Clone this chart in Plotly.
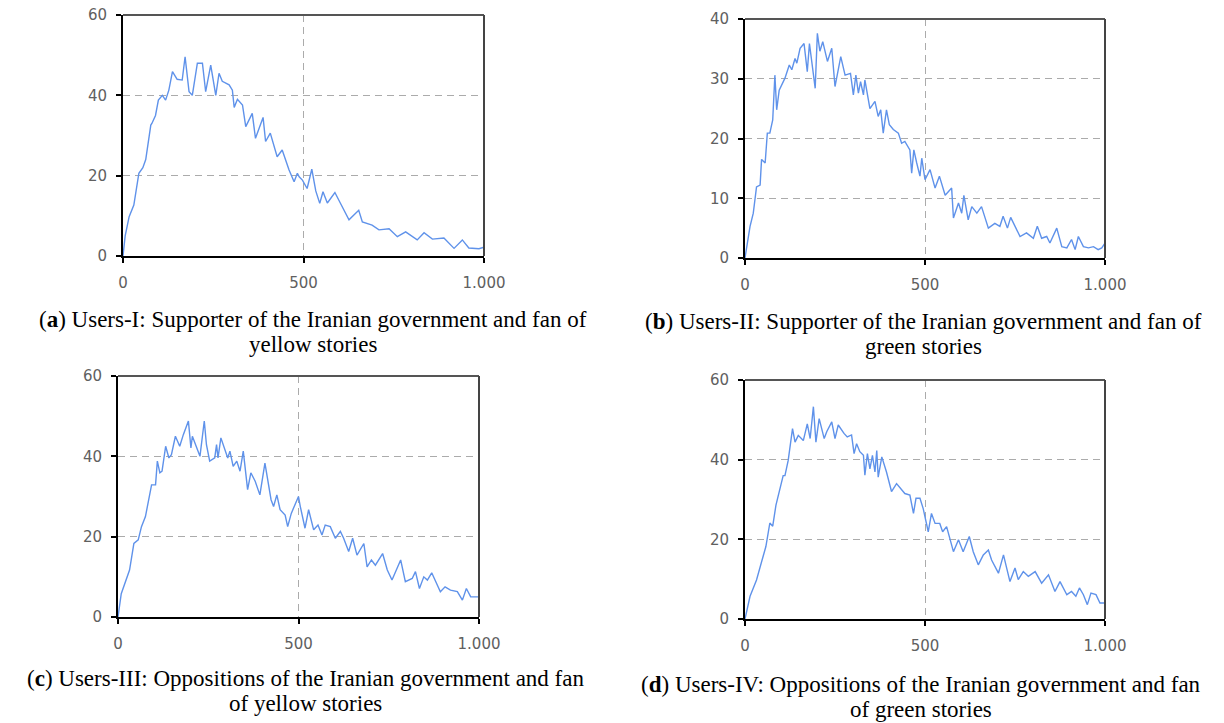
import plotly.graph_objects as go

W, H = 1224, 723

# ---- series data (x: time step, y: number of users) ----
a_x = [0, 6, 17, 30, 44, 55, 63, 77, 80, 90, 98, 109, 118, 127, 137, 150, 164, 172, 183, 192,
       206, 220, 229, 243, 257, 266, 275, 294, 303, 308, 317, 331, 340, 358, 367, 388, 395, 408,
       427, 441, 460, 474, 483, 488, 497, 510, 523, 534, 545, 554, 566, 587, 603, 626, 653, 663,
       690, 709, 737, 760, 783, 815, 834, 857, 889, 917, 940, 958, 986, 1000]
a_y = [0, 5, 9.8, 12.7, 20.6, 22, 24, 32.6, 33, 35, 38.8, 40, 38.8, 41.3, 45.9, 44, 43.8, 49.6, 40.9, 40,
       48, 48, 40.9, 47.5, 40, 45.5, 43.5, 42.6, 41.3, 37, 39, 37.6, 32.2, 35.5, 29.3, 34.5, 28.5, 30.6,
       24.7, 26.4, 21.4, 18.5, 20.6, 19.7, 18.9, 16.8, 21.6, 16.2, 13.1, 16, 13.2, 15.8, 13, 9, 11.4, 8.5,
       7.7, 6.5, 6.8, 4.8, 6, 4, 5.8, 4.2, 4.5, 1.9, 4, 2, 1.8, 2.2]

b_x = [0, 14, 23, 32, 42, 46, 56, 62, 69, 77, 83, 88, 95, 111, 123, 130, 139, 144, 153, 164,
       173, 179, 195, 201, 208, 216, 229, 241, 250, 266, 278, 293, 301, 308, 315, 321, 329, 333,
       347, 361, 370, 377, 384, 393, 401, 412, 426, 435, 444, 458, 463, 469, 477, 486, 491, 500,
       514, 528, 540, 556, 574, 579, 593, 602, 608, 620, 630, 644, 657, 676, 694, 708, 717, 729,
       738, 755, 764, 782, 801, 812, 824, 838, 847, 866, 880, 894, 907, 917, 926, 940, 954, 968,
       981, 991, 1000]
b_y = [0, 5.3, 7.5, 11.9, 12.2, 16.5, 15.9, 20.9, 20.9, 23.1, 30.6, 24.8, 28.1, 30.1, 32.3, 31.5, 33.4, 32.6, 35.1, 35.9,
       31.2, 35.9, 28.4, 37.6, 34.6, 36.2, 32.9, 35.1, 28.7, 33.7, 30.6, 30.9, 27.3, 30.6, 27.6, 29.5, 27.3, 29.8,
       25, 26.2, 23.7, 24.8, 20.9, 24.8, 22.3, 21.5, 20.9, 19.2, 19.5, 18.1, 14.2, 18.1, 15.9, 13.7, 16.7, 13.1,
       14.8, 11.7, 13.7, 10.5, 11.7, 6.7, 9.2, 7.5, 10.5, 6.4, 8.6, 7.5, 8.6, 5, 5.8, 5.3, 7, 5,
       6.8, 4.7, 3.6, 4.2, 3.3, 5.3, 3.3, 3.6, 2.5, 5, 1.9, 1.7, 3.1, 1.4, 3.6, 1.9, 1.7, 1.9,
       1.4, 1.7, 2.5]

c_x = [0, 9, 32, 44, 56, 65, 76, 93, 104, 109, 116, 122, 132, 141, 148, 159, 171, 181, 195, 202,
       206, 227, 239, 245, 254, 268, 273, 277, 285, 296, 304, 310, 319, 329, 338, 347, 359, 368,
       380, 393, 407, 424, 431, 440, 449, 463, 470, 480, 491, 500, 505, 518, 528, 542, 554, 565,
       574, 588, 602, 616, 625, 639, 650, 662, 681, 690, 702, 713, 733, 746, 759, 783, 796, 815,
       824, 835, 847, 857, 869, 879, 893, 906, 921, 940, 954, 965, 977, 991, 1000]
c_y = [0, 5.8, 11.7, 18.3, 19.2, 22.5, 25, 32.9, 32.9, 38.8, 35.9, 36.3, 42.5, 39.6, 40.4, 45, 42.5, 45.4, 48.8, 42.1,
       45, 40, 48.8, 42.9, 38.8, 39.6, 42.9, 39.6, 44.6, 41.7, 39.6, 41.3, 37.5, 38.8, 36.3, 41.3, 31.7, 35.9,
       33.8, 30.4, 38.3, 29.2, 27.5, 30.4, 26.7, 25.4, 22.5, 25.8, 27.9, 30, 27.5, 22.1, 26.7, 21.7, 22.9, 20.4,
       22.9, 22.5, 19.6, 21.3, 19.6, 16.3, 19.6, 15.4, 18.3, 12.5, 14.2, 12.9, 15.8, 11.7, 9.2, 14.2, 8.8, 9.6,
       11.3, 7.1, 10, 9.2, 11, 9.2, 6.3, 7.5, 6.7, 6.3, 4.2, 7.1, 5, 5, 5]

d_x = [0, 14, 32, 46, 58, 69, 77, 86, 97, 106, 111, 120, 132, 139, 148, 162, 173, 181, 190, 197,
       206, 220, 227, 241, 250, 259, 275, 284, 296, 303, 310, 319, 329, 333, 340, 347, 354, 361,
       366, 370, 380, 393, 407, 421, 444, 458, 468, 475, 486, 495, 509, 518, 528, 541, 549, 560,
       579, 593, 606, 623, 634, 648, 662, 676, 685, 704, 718, 736, 750, 759, 773, 787, 806, 824,
       843, 861, 875, 894, 907, 919, 929, 940, 951, 961, 975, 986, 1000]
d_y = [0, 5.7, 9.8, 14.4, 18.2, 24.1, 23.3, 28.6, 32.3, 36, 36, 39.8, 47.8, 44.4, 46.1, 44.8, 49, 45.3, 53.3, 44.4,
       50.3, 45.3, 47, 49.5, 45.3, 48.7, 46.6, 45.7, 46.2, 41.5, 44, 42, 41.1, 36.1, 41.5, 37.7, 41.1, 36.9,
       42.3, 35.6, 40.7, 36.9, 32, 34, 31.5, 31.1, 26.5, 30.3, 30.3, 27.7, 21.9, 26.5, 24, 24, 21.9, 23.2,
       16.9, 19.9, 16.9, 20.7, 16.9, 13.6, 16.1, 17.3, 14.8, 11.5, 16.1, 9.4, 12.8, 9.9, 11.9, 10.7, 11.9, 9,
       11.1, 6.9, 9.4, 6.1, 6.9, 5.7, 7.8, 6.1, 3.6, 6.5, 6.1, 4, 4]

x_ticks = [0, 500, 1000]
x_tick_text = ["0", "500", "1.000"]

# caption lines for each panel
captions = {
    "a": ["(<b>a</b>) Users-I: Supporter of the Iranian government and fan of", "yellow stories"],
    "b": ["(<b>b</b>) Users-II: Supporter of the Iranian government and fan of", "green stories"],
    "c": ["(<b>c</b>) Users-III: Oppositions of the Iranian government and fan", "of yellow stories"],
    "d": ["(<b>d</b>) Users-IV: Oppositions of the Iranian government and fan", "of green stories"],
}

# panel geometry in pixels: left, right, top, bottom; y max; y tick values; caption centre x, line y's
panels = [
    ("a", a_x, a_y, (123, 484, 15, 256), 60, [0, 20, 40, 60], 313, (319, 344)),
    ("b", b_x, b_y, (745, 1105, 19, 258), 40, [0, 10, 20, 30, 40], 923, (321, 346)),
    ("c", c_x, c_y, (118, 479, 376, 617), 60, [0, 20, 40, 60], 305, (678, 703)),
    ("d", d_x, d_y, (745, 1105, 380, 619), 60, [0, 20, 40, 60], 921, (684, 709)),
]

LINE_BLUE = "#5f92ea"
GRID = "#ababab"
TICK_FONT = dict(family="DejaVu Sans", size=15, color="#606060")
CAP_FONT = dict(family="Liberation Serif", size=23, color="#000000")

fig = go.Figure()
layout = dict(
    width=W, height=H, autosize=False,
    margin=dict(l=0, r=0, t=0, b=0, pad=0),
    paper_bgcolor="white", plot_bgcolor="white",
    showlegend=False,
)
shapes = []
annotations = []

for i, (key, xs, ys, (l, r, t, b), ymax, yticks, cap_x, cap_ys) in enumerate(panels, start=1):
    xa = "x" if i == 1 else f"x{i}"
    ya = "y" if i == 1 else f"y{i}"
    fig.add_trace(go.Scatter(
        x=xs, y=ys, mode="lines", xaxis=xa, yaxis=ya,
        line=dict(color=LINE_BLUE, width=1.4), hoverinfo="skip",
    ))
    xkey = "xaxis" if i == 1 else f"xaxis{i}"
    ykey = "yaxis" if i == 1 else f"yaxis{i}"
    layout[xkey] = dict(
        domain=[l / W, r / W], anchor=ya, range=[0, 1000], automargin=False,
        tickvals=x_ticks, ticktext=x_tick_text, tickfont=TICK_FONT,
        ticks="outside", ticklen=5, tickwidth=1.5, tickcolor="#000",
        ticklabelstandoff=7,
        showline=True, linecolor="#000", linewidth=2,
        showgrid=True, gridcolor=GRID, griddash="7px,5px", gridwidth=1,
        zeroline=False, fixedrange=True,
    )
    layout[ykey] = dict(
        domain=[1 - b / H, 1 - t / H], anchor=xa, range=[0, ymax], automargin=False,
        tickvals=yticks, tickfont=TICK_FONT,
        ticks="outside", ticklen=5, tickwidth=1.5, tickcolor="#000",
        ticklabelstandoff=6,
        showline=True, linecolor="#000", linewidth=2,
        showgrid=True, gridcolor=GRID, griddash="7px,5px", gridwidth=1,
        zeroline=False, fixedrange=True,
    )
    # top and right frame edges
    shapes.append(dict(type="line", xref=f"{xa} domain", yref=f"{ya} domain",
                       x0=0, x1=1, y0=1, y1=1, line=dict(color="#555", width=2)))
    shapes.append(dict(type="line", xref=f"{xa} domain", yref=f"{ya} domain",
                       x0=1, x1=1, y0=0, y1=1, line=dict(color="#444", width=2)))
    for text, cy in zip(captions[key], cap_ys):
        annotations.append(dict(
            text=text, xref="paper", yref="paper",
            x=cap_x / W, y=1 - cy / H, xanchor="center", yanchor="middle",
            showarrow=False, font=CAP_FONT,
        ))

layout["shapes"] = shapes
layout["annotations"] = annotations
fig.update_layout(**layout)

fig.write_html("out.html")
